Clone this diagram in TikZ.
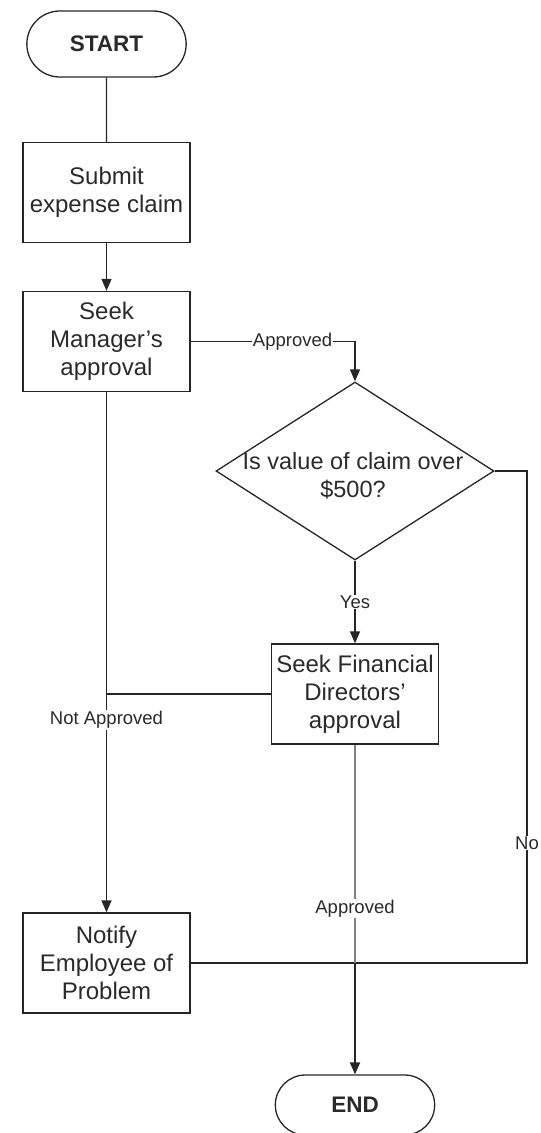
\documentclass[tikz,border=0pt]{standalone}
\usepackage{fontspec}
\setmainfont{Liberation Sans}
\usetikzlibrary{shapes.geometric,shapes.misc,arrows.meta}
\definecolor{ink}{HTML}{262626}
\definecolor{txt}{HTML}{2A2A2A}
\definecolor{soft}{HTML}{808080}
\begin{document}
\begin{tikzpicture}[x=1pt,y=-1pt,
  line/.style={draw=ink,line width=1.4pt},
  arr/.style={line,-{Triangle[length=12pt,width=10pt]}},
  box/.style={draw=ink,line width=1.3pt,minimum width=167pt,minimum height=100pt,
    align=center,text=txt,font=\fontsize{24}{28}\selectfont,inner sep=2pt},
  term/.style={rounded rectangle,draw=ink,line width=1.3pt,minimum width=166pt,
    minimum height=66pt,font=\fontsize{22.5}{26}\selectfont\bfseries,text=txt},
  lab/.style={fill=white,inner sep=1pt,font=\fontsize{18.5}{20}\selectfont,text=txt}]
\useasboundingbox (0,0) rectangle (541,1133);

% process steps
\node[term] (start) at (106.5,44) {START};
\node[box] (submit) at (106.5,192.5) {Submit\\expense claim};
\node[box] (mgr) at (106.5,341.5) {Seek\\Manager's\\approval};
\node[diamond,draw=ink,line width=1.3pt,minimum width=278pt,minimum height=178pt,
  inner sep=0pt] (dec) at (355,471) {};
\node[text=txt,font=\fontsize{23.5}{28}\selectfont,align=center] (dectext) at (353,476)
  {Is value of claim over\\\$500?};
\node[box] (fin) at (355,694) {Seek Financial\\Directors'\\approval};
\node[box] (notify) at (106.5,963) {Notify\\Employee of\\Problem};
\node[term,minimum height=60pt] (end) at (355,1105) {END};

% connectors
\draw[line] (start) -- (submit);
\draw[arr] (submit) -- (mgr);
\draw[arr] (mgr.east) -| node[lab,pos=0.31] {Approved} (dec.north);
\draw[arr] (dec.south) -- node[lab,pos=0.5] {Yes} (fin.north);
\draw[arr] (mgr.south) -- node[lab,pos=0.63] {Not Approved} (notify.north);
\coordinate (nj) at (mgr.south |- fin.west);
\draw[line] (fin.west) -- (nj);
\coordinate (nr) at (527,471);
\coordinate (nb) at (527,963);
\draw[line] (dec.east) -- (nr) -- node[lab,pos=0.756] {No} (nb) -- (notify.east);
\coordinate (aj) at (fin.south |- notify.east);
\draw[line,draw=soft] (fin.south) -- node[lab,pos=0.75] {Approved} (aj);
\draw[arr,line width=2.2pt] (aj) -- (end.north);
\end{tikzpicture}
\end{document}
